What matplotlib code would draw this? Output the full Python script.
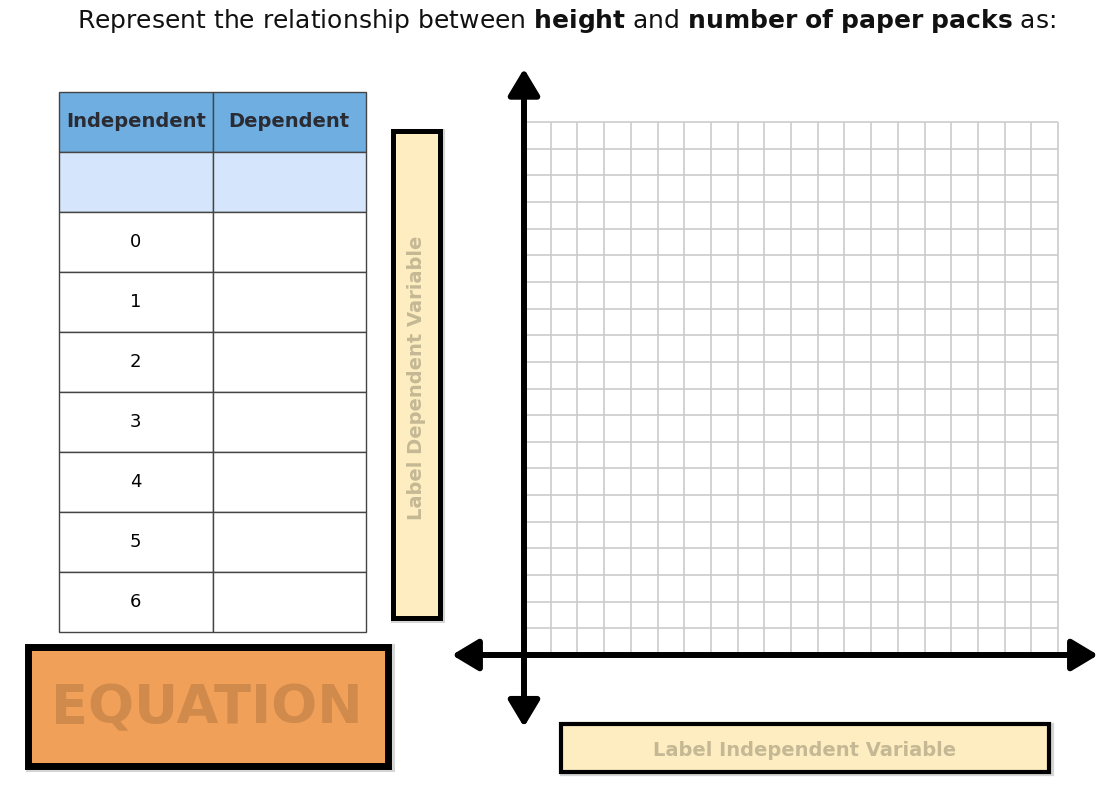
import matplotlib.pyplot as plt
from matplotlib.patches import Rectangle

# Worksheet content
title_text = r'Represent the relationship between $\bf{height}$ and $\bf{number\ of\ paper\ packs}$ as:'
col_labels = ['Independent', 'Dependent']
independent_values = ['', '0', '1', '2', '3', '4', '5', '6']
dependent_values = ['', '', '', '', '', '', '', '']
grid_cells = 20
x_label_text = 'Label Independent Variable'
y_label_text = 'Label Dependent Variable'
equation_text = 'EQUATION'

W, H = 1106, 790


def px_axes(fig, x0, y0, x1, y1):
    # axes placed by pixel box (top-left origin)
    return fig.add_axes([x0 / W, 1 - y1 / H, (x1 - x0) / W, (y1 - y0) / H])


def sketch_box(ax, x0, y0, x1, y1, fill, lw):
    # soft shadow then the box
    ax.add_patch(Rectangle((x0 + 1.5, y0 + 1.5), x1 - x0, y1 - y0, facecolor='none',
                           edgecolor='#888888', lw=lw + 1.5, alpha=0.35))
    ax.add_patch(Rectangle((x0, y0), x1 - x0, y1 - y0, facecolor=fill,
                           edgecolor='black', lw=lw, joinstyle='miter'))


fig = plt.figure(figsize=(W / 100, H / 100), dpi=100)

# overlay in pixel coordinates for the boxes
ax = fig.add_axes([0, 0, 1, 1])
ax.set_xlim(0, W)
ax.set_ylim(H, 0)
ax.axis('off')

fig.text(566 / W, 1 - 21 / H, title_text, ha='center', va='center', fontsize=18, color='#111111')

label_fill = '#FEEDC1'
label_color = '#C4B994'

# dependent variable label (vertical)
sketch_box(ax, 392.5, 130.5, 439.5, 617.5, label_fill, 3.6)
ax.text(416, 378, y_label_text, rotation=90, ha='center', va='center',
        fontsize=14, fontweight='bold', color=label_color)

# independent variable label
sketch_box(ax, 561, 724, 1049, 771.5, label_fill, 3.0)
ax.text(805, 750, x_label_text, ha='center', va='center',
        fontsize=14, fontweight='bold', color=label_color)

# equation box
sketch_box(ax, 28, 646.5, 388, 765.5, '#F0A058', 5.0)
ax.text(207, 708, equation_text, ha='center', va='center',
        fontsize=39, fontweight='bold', color='#D08A4C')

# table
tax = px_axes(fig, 59, 92, 366, 632)
tax.axis('off')
cell_text = [[i, d] for i, d in zip(independent_values, dependent_values)]
cell_colors = [['#D5E6FC', '#D5E6FC']] + [['white', 'white']] * (len(cell_text) - 1)
tab = tax.table(cellText=cell_text, colLabels=col_labels, cellLoc='center',
                cellColours=cell_colors, colColours=['#6EAEE1', '#6EAEE1'],
                bbox=[0, 0, 1, 1])
tab.auto_set_font_size(False)
tab.set_fontsize(13)
for (r, c), cell in tab.get_celld().items():
    cell.set_edgecolor('#444444')
    cell.set_linewidth(1.0)
    if r == 0:
        cell.get_text().set_fontweight('bold')
        cell.get_text().set_fontsize(14)
        cell.get_text().set_color('#2B2B33')

# graph paper
gax = px_axes(fig, 524, 122, 1058, 655)
gax.set_xlim(0, grid_cells)
gax.set_ylim(0, grid_cells)
gax.axis('off')
gax.vlines(range(grid_cells + 1), 0, grid_cells, color='#CCCCCC', lw=1.2, clip_on=False)
gax.hlines(range(grid_cells + 1), 0, grid_cells, color='#CCCCCC', lw=1.2, clip_on=False)

arrow = dict(arrowstyle='<|-|>,head_length=1.0,head_width=0.6', mutation_scale=16,
             lw=4.3, color='black', shrinkA=0, shrinkB=0)
gax.annotate('', xy=(0, 22.0), xytext=(0, -2.7), arrowprops=arrow, annotation_clip=False)
gax.annotate('', xy=(21.5, 0), xytext=(-2.7, 0), arrowprops=arrow, annotation_clip=False)

fig.savefig('out.png', dpi=100)
